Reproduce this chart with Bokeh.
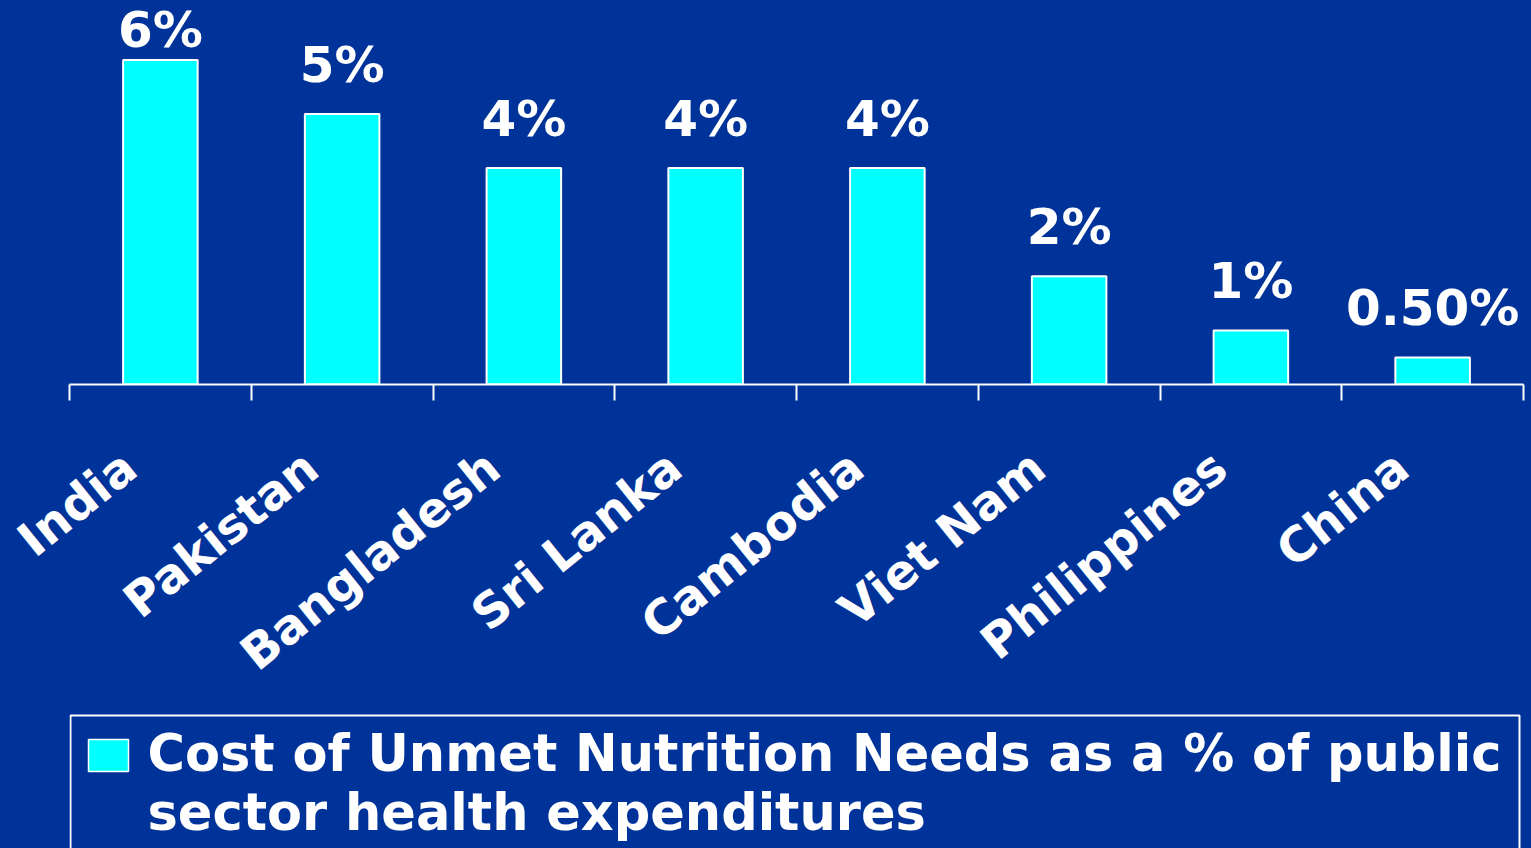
from bokeh.plotting import figure
from bokeh.layouts import column
from bokeh.models import (Range1d, LinearAxis, FixedTicker, ColumnDataSource)
from bokeh.core.properties import value
from bokeh.embed import file_html
from bokeh.resources import INLINE

# ---- data ----
countries = ["India", "Pakistan", "Bangladesh", "Sri Lanka", "Cambodia",
             "Viet Nam", "Philippines", "China"]
shares = [6, 5, 4, 4, 4, 2, 1, 0.5]
share_labels = ["6%", "5%", "4%", "4%", "4%", "2%", "1%", "0.50%"]
legend_lines = ["Cost of Unmet Nutrition Needs as a % of public",
                "sector health expenditures"]

BG = "#003399"
CYAN = "#00FFFF"
FONT = "DejaVu Sans"

W = 1531
H = 848
CH = 712          # chart figure height
LH = H - CH       # legend panel height
LEFT, RIGHT = 69, 8
FRAME_H = 384
PPU = 54.1        # pixels per percentage point
YMAX = FRAME_H / PPU
VAL_FS = 50
SHIFT = 0.4       # renderer baseline compensation (fraction of font size)

n = len(countries)
centers = [i + 0.5 for i in range(n)]
cat_w = (W - LEFT - RIGHT) / n
label_shift = 31 / cat_w

p = figure(width=W, height=CH, output_backend="svg", toolbar_location=None,
           x_range=Range1d(0, n), y_range=Range1d(0, YMAX),
           x_axis_location=None, y_axis_location=None,
           min_border_left=LEFT, min_border_right=RIGHT, min_border_top=0,
           min_border_bottom=CH - FRAME_H)
p.background_fill_color = BG
p.border_fill_color = BG
p.outline_line_color = None
p.xgrid.visible = False
p.ygrid.visible = False

tick_axis = LinearAxis(ticker=FixedTicker(ticks=list(range(n + 1))),
                       major_label_overrides={i: "" for i in range(n + 1)},
                       axis_line_color="white", axis_line_width=2,
                       major_tick_line_color="white", major_tick_line_width=2,
                       major_tick_in=0, major_tick_out=16,
                       minor_tick_line_color=None,
                       major_label_text_font_size="1px",
                       major_label_standoff=0)
p.add_layout(tick_axis, "below")

lab_ticks = [c - label_shift for c in centers]
label_axis = LinearAxis(ticker=FixedTicker(ticks=lab_ticks),
                        major_label_overrides={t: name for t, name in zip(lab_ticks, countries)},
                        axis_line_color=None, major_tick_line_color=None,
                        major_tick_in=0, major_tick_out=0,
                        minor_tick_line_color=None,
                        major_label_orientation=0.68,
                        major_label_standoff=60,
                        major_label_text_color="white",
                        major_label_text_font=FONT,
                        major_label_text_font_style="bold",
                        major_label_text_font_size="48px")
p.add_layout(label_axis, "below")

# value-label offsets: 31 px above bar top, kept inside the plot top
offs = []
for v in shares:
    top_px = (YMAX - v) * PPU
    gap = min(31.0, top_px - 47.0)
    offs.append(-gap - SHIFT * VAL_FS + 2)

src = ColumnDataSource(dict(x=centers, top=shares, lab=share_labels, off=offs))
p.vbar(x="x", top="top", width=0.41, source=src, fill_color=CYAN,
       line_color="white", line_width=2)
p.text(x="x", y="top", text="lab", y_offset="off", source=src,
       text_color="white", text_font=value(FONT), text_font_style="bold",
       text_font_size=f"{VAL_FS}px", text_align="center", text_baseline="alphabetic")

# ---- legend panel (data units = page pixels) ----
LG_FS = 51
lg = figure(width=W, height=LH, output_backend="svg", toolbar_location=None,
            x_range=Range1d(LEFT, W - RIGHT), y_range=Range1d(H, CH),
            x_axis_location=None, y_axis_location=None,
            min_border_left=LEFT, min_border_right=RIGHT,
            min_border_top=0, min_border_bottom=0)
lg.background_fill_color = BG
lg.border_fill_color = BG
lg.outline_line_color = None
lg.xgrid.visible = False
lg.ygrid.visible = False
lg.quad(left=[70], right=[1519], top=[715], bottom=[870], fill_color=None,
        line_color="white", line_width=2)
lg.quad(left=[88], right=[128], top=[739], bottom=[771], fill_color=CYAN,
        line_color="white", line_width=1.5)
lg.text(x=[147, 147], y=[773 - SHIFT * LG_FS, 832 - SHIFT * LG_FS], text=legend_lines,
        text_color="white", text_font=value(FONT), text_font_style="bold",
        text_font_size=f"{LG_FS}px", text_align="left", text_baseline="alphabetic")

layout = column(p, lg, spacing=0)
html = file_html(layout, INLINE)
i = html.rfind("<body>")
if i >= 0:
    html = html[:i] + '<body style="background-color:#003399">' + html[i + len("<body>"):]
open("out.html", "w").write(html)
